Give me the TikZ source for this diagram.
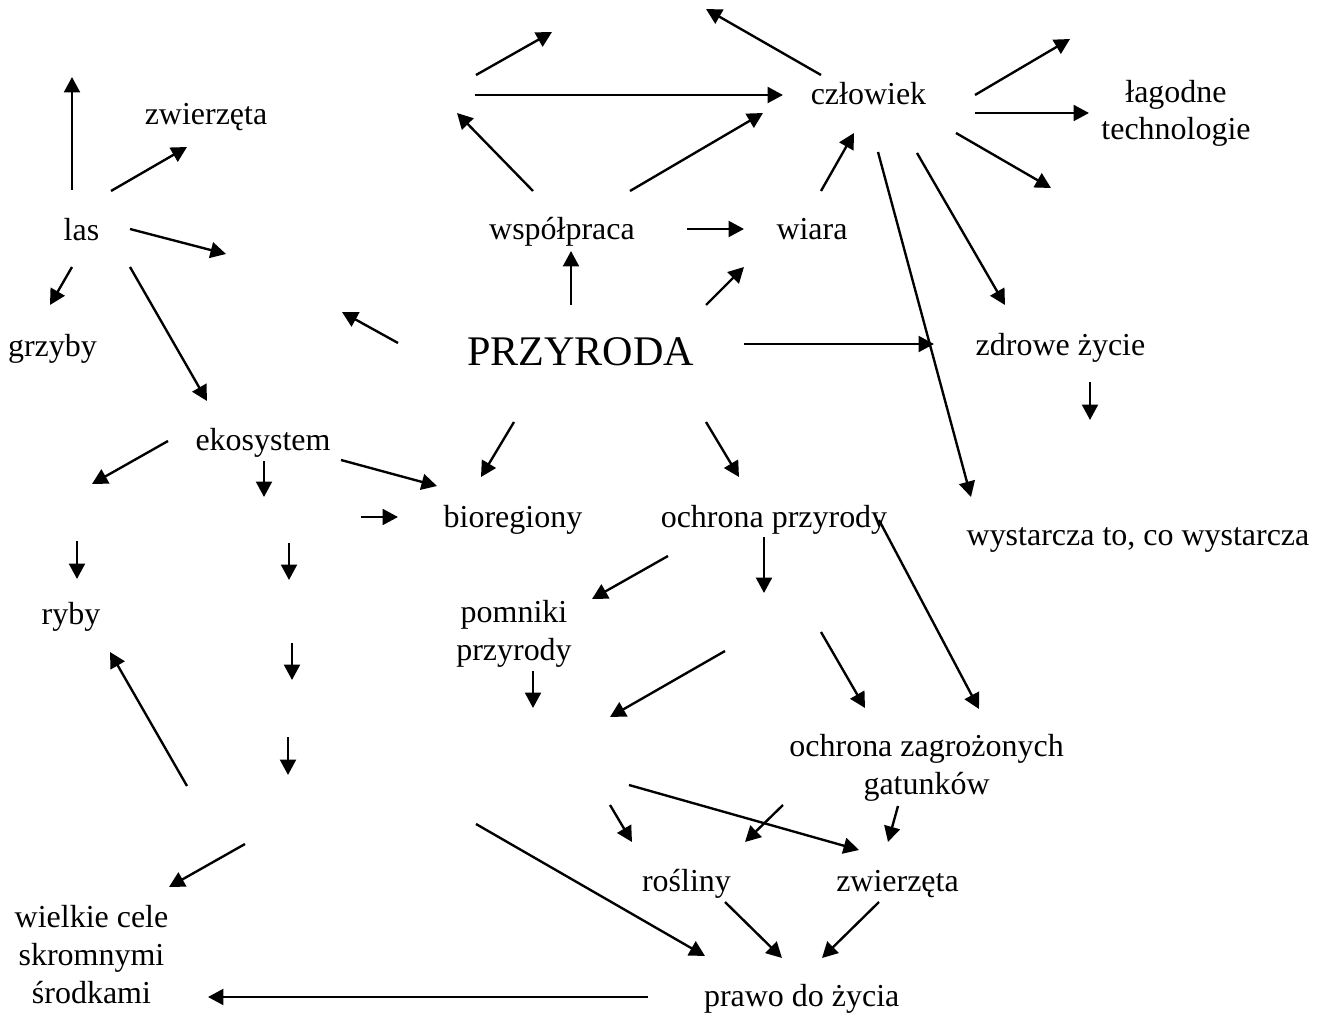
\documentclass[tikz,border=0pt]{standalone}
\usepackage{fontspec}
\setmainfont{Liberation Serif}
\usetikzlibrary{arrows.meta}
\tikzstyle{word} = [text centered, align=center, inner sep=0pt, anchor=base, font=\fontsize{18.2}{21.6}\selectfont]
\tikzstyle{title} = [word, font=\fontsize{24}{28}\selectfont]
\tikzstyle{link} = [line width=1.35pt, black, ->, >={Triangle[length=3.1mm, width=3.2mm]}]

\begin{document}
\begin{tikzpicture}[x=0.02cm, y=-0.02cm]

    \path [fill=white] (0,0) rectangle (1323,1017);
    \useasboundingbox (0,0) rectangle (1323,1017);

    % words (multi-line ones sit on their last line)
    \node (przyroda) [title] at (580.7,365) {PRZYRODA};
    \node (zwierzeta_top) [word] at (206,125) {zwierzęta};
    \node (las) [word] at (81.5,240) {las};
    \node (grzyby) [word] at (52.5,356.7) {grzyby};
    \node (czlowiek) [word] at (868.5,105) {człowiek};
    \node (lagodne) [word] at (1176,140) {łagodne\\technologie};
    \node (wspolpraca) [word] at (562,239) {współpraca};
    \node (wiara) [word] at (812,239) {wiara};
    \node (zdrowe) [word] at (1060.5,355) {zdrowe życie};
    \node (ekosystem) [word] at (263,450) {ekosystem};
    \node (bioregiony) [word] at (513,527.3) {bioregiony};
    \node (ochrona) [word] at (774,527) {ochrona przyrody};
    \node (wystarcza) [word] at (1138,545.7) {wystarcza to, co wystarcza};
    \node (ryby) [word] at (71,624) {ryby};
    \node (pomniki) [word] at (514,660.7) {pomniki\\przyrody};
    \node (zagrozone) [word] at (926.6,794.7) {ochrona zagrożonych\\gatunków};
    \node (rosliny) [word] at (686.5,891.3) {rośliny};
    \node (zwierzeta) [word] at (897.5,891) {zwierzęta};
    \node (wielkie) [word] at (91.5,1003) {wielkie cele\\skromnymi\\środkami};
    \node (prawo) [word] at (801.7,1006.7) {prawo do życia};

    % arrow ends
    \coordinate (las_up1) at (72,190);      \coordinate (las_up2) at (72,77);
    \coordinate (las_zw1) at (111,191);     \coordinate (las_zw2) at (187,147);
    \coordinate (las_r1) at (130,229);      \coordinate (las_r2) at (226,254);
    \coordinate (las_gr1) at (72,267);      \coordinate (las_gr2) at (50,305);
    \coordinate (las_eko1) at (130,267);    \coordinate (las_eko2) at (207,401);
    \coordinate (prz_l1) at (398,343);      \coordinate (prz_l2) at (342,312);
    \coordinate (top_a1) at (476,75);       \coordinate (top_a2) at (552,32);
    \coordinate (top_b1) at (475,95);       \coordinate (top_b2) at (783,95);
    \coordinate (czl_ul1) at (821,75);      \coordinate (czl_ul2) at (706,9);
    \coordinate (wsp_ul1) at (533,191);     \coordinate (wsp_ul2) at (457,113);
    \coordinate (wsp_czl1) at (630,191);    \coordinate (wsp_czl2) at (763,113);
    \coordinate (wia_czl1) at (821,191);    \coordinate (wia_czl2) at (854,133);
    \coordinate (wsp_wia1) at (687,229);    \coordinate (wsp_wia2) at (744,229);
    \coordinate (prz_wsp1) at (571,305);    \coordinate (prz_wsp2) at (571,251);
    \coordinate (prz_wia1) at (706,305);    \coordinate (prz_wia2) at (744,267);
    \coordinate (czl_ur1) at (975,95);      \coordinate (czl_ur2) at (1070,39);
    \coordinate (czl_lag1) at (975,113);    \coordinate (czl_lag2) at (1089,113);
    \coordinate (czl_dr1) at (956,133);     \coordinate (czl_dr2) at (1051,188);
    \coordinate (czl_zdr1) at (917,153);    \coordinate (czl_zdr2) at (1005,305);
    \coordinate (czl_wys1) at (878,152);    \coordinate (czl_wys2) at (971,497);
    \coordinate (prz_zdr1) at (744,344);    \coordinate (prz_zdr2) at (934,344);
    \coordinate (zdr_d1) at (1090,382);     \coordinate (zdr_d2) at (1090,420);
    \coordinate (eko_l1) at (168,441);      \coordinate (eko_l2) at (92,484);
    \coordinate (eko_d1) at (264,461);      \coordinate (eko_d2) at (264,497);
    \coordinate (eko_bio1) at (341,460);    \coordinate (eko_bio2) at (437,486);
    \coordinate (bio_in1) at (361,517);     \coordinate (bio_in2) at (398,517);
    \coordinate (ryb_in1) at (77,541);      \coordinate (ryb_in2) at (77,579);
    \coordinate (col_a1) at (289,543);      \coordinate (col_a2) at (289,580);
    \coordinate (col_b1) at (292,643);      \coordinate (col_b2) at (292,680);
    \coordinate (col_c1) at (288,737);      \coordinate (col_c2) at (288,775);
    \coordinate (ryb_up1) at (187,786);     \coordinate (ryb_up2) at (110,652);
    \coordinate (prz_bio1) at (514,422);    \coordinate (prz_bio2) at (481,477);
    \coordinate (prz_och1) at (706,422);    \coordinate (prz_och2) at (739,477);
    \coordinate (och_d1) at (764,537);      \coordinate (och_d2) at (764,593);
    \coordinate (och_pom1) at (668,556);    \coordinate (och_pom2) at (592,599);
    \coordinate (mid_l1) at (725,651);      \coordinate (mid_l2) at (610,717);
    \coordinate (mid_r1) at (821,632);      \coordinate (mid_r2) at (865,708);
    \coordinate (pom_d1) at (533,671);      \coordinate (pom_d2) at (533,708);
    \coordinate (och_zag1) at (879,520);    \coordinate (och_zag2) at (979,709);
    \coordinate (wie_in1) at (245,844);     \coordinate (wie_in2) at (169,887);
    \coordinate (pra_wie1) at (648,997);    \coordinate (pra_wie2) at (208,997);
    \coordinate (pra_in1) at (476,824);     \coordinate (pra_in2) at (705,956);
    \coordinate (ros_in1) at (610,805);     \coordinate (ros_in2) at (632,842);
    \coordinate (zwi_in1) at (629,785);     \coordinate (zwi_in2) at (859,850);
    \coordinate (zag_ros1) at (783,805);    \coordinate (zag_ros2) at (745,842);
    \coordinate (zag_zwi1) at (898,806);    \coordinate (zag_zwi2) at (888,842);
    \coordinate (ros_pra1) at (725,902);    \coordinate (ros_pra2) at (782,958);
    \coordinate (zwi_pra1) at (879,902);    \coordinate (zwi_pra2) at (822,958);

    % las
    \draw [link] (las_up1) -- (las_up2);
    \draw [link] (las_zw1) -- (las_zw2);
    \draw [link] (las_r1) -- (las_r2);
    \draw [link] (las_gr1) -- (las_gr2);
    \draw [link] (las_eko1) -- (las_eko2);

    % top row
    \draw [link] (top_a1) -- (top_a2);
    \draw [link] (top_b1) -- (top_b2);
    \draw [link] (wsp_ul1) -- (wsp_ul2);
    \draw [link] (wsp_czl1) -- (wsp_czl2);
    \draw [link] (wsp_wia1) -- (wsp_wia2);
    \draw [link] (wia_czl1) -- (wia_czl2);

    % czlowiek
    \draw [link] (czl_ul1) -- (czl_ul2);
    \draw [link] (czl_ur1) -- (czl_ur2);
    \draw [link] (czl_lag1) -- (czl_lag2);
    \draw [link] (czl_dr1) -- (czl_dr2);
    \draw [link] (czl_zdr1) -- (czl_zdr2);
    \draw [link] (czl_wys1) -- (czl_wys2);
    \draw [link] (zdr_d1) -- (zdr_d2);

    % przyroda
    \draw [link] (prz_l1) -- (prz_l2);
    \draw [link] (prz_wsp1) -- (prz_wsp2);
    \draw [link] (prz_wia1) -- (prz_wia2);
    \draw [link] (prz_zdr1) -- (prz_zdr2);
    \draw [link] (prz_bio1) -- (prz_bio2);
    \draw [link] (prz_och1) -- (prz_och2);

    % ekosystem
    \draw [link] (eko_l1) -- (eko_l2);
    \draw [link] (eko_d1) -- (eko_d2);
    \draw [link] (eko_bio1) -- (eko_bio2);
    \draw [link] (bio_in1) -- (bio_in2);
    \draw [link] (ryb_in1) -- (ryb_in2);
    \draw [link] (col_a1) -- (col_a2);
    \draw [link] (col_b1) -- (col_b2);
    \draw [link] (col_c1) -- (col_c2);
    \draw [link] (ryb_up1) -- (ryb_up2);
    \draw [link] (wie_in1) -- (wie_in2);

    % ochrona przyrody
    \draw [link] (och_d1) -- (och_d2);
    \draw [link] (och_pom1) -- (och_pom2);
    \draw [link] (och_zag1) -- (och_zag2);
    \draw [link] (mid_l1) -- (mid_l2);
    \draw [link] (mid_r1) -- (mid_r2);
    \draw [link] (pom_d1) -- (pom_d2);

    % bottom
    \draw [link] (ros_in1) -- (ros_in2);
    \draw [link] (zwi_in1) -- (zwi_in2);
    \draw [link] (zag_ros1) -- (zag_ros2);
    \draw [link] (zag_zwi1) -- (zag_zwi2);
    \draw [link] (ros_pra1) -- (ros_pra2);
    \draw [link] (zwi_pra1) -- (zwi_pra2);
    \draw [link] (pra_in1) -- (pra_in2);
    \draw [link] (pra_wie1) -- (pra_wie2);

\end{tikzpicture}
\end{document}
